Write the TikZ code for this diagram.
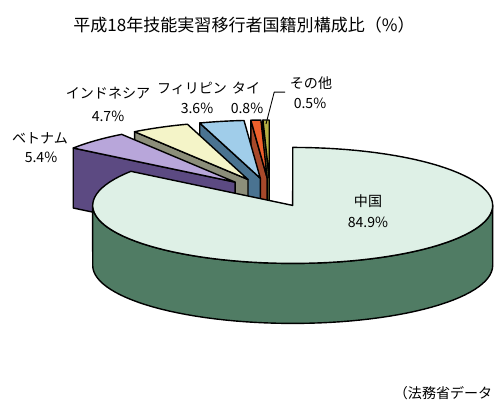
\documentclass[tikz,border=0pt]{standalone}
\usepackage{fontspec}
\setmainfont{Noto Sans CJK JP}
\usetikzlibrary{calc}
\definecolor{cntop}{RGB}{222,240,230}
\definecolor{cnside}{RGB}{80,124,100}
\definecolor{vntop}{RGB}{184,166,218}
\definecolor{vnside}{RGB}{92,74,130}
\definecolor{idtop}{RGB}{244,244,200}
\definecolor{idside}{RGB}{140,142,122}
\definecolor{phtop}{RGB}{160,205,234}
\definecolor{phside}{RGB}{74,115,145}
\definecolor{thtop}{RGB}{238,96,44}
\definecolor{thside}{RGB}{168,73,42}
\definecolor{ottop}{RGB}{181,176,68}
\definecolor{otside}{RGB}{110,106,44}
\def\pieslice[#1][#2](#3)(#4:#5){%
	\begin{scope}[shift={(#3)}]
	\draw[fill=#2] (0,0) -- ({200*cos(#5)},{58*sin(#5)}) -- ++(0,-60) -- (0,-60) -- cycle;
	\draw[fill=#1] (0,0) -- plot[domain=#4:#5, samples=20] ({200*cos(\x)},{58*sin(\x)}) -- cycle;
	\end{scope}}

\begin{document}
\begin{tikzpicture}[x=0.02cm, y=0.02cm, line width=0.8pt, line join=round,
	lbl/.style={font=\fontsize{8}{9.6}\selectfont, inner sep=0pt}]
			%%%%% START %%%%%
			\useasboundingbox (0,0) rectangle (494,406);
			
			\node[font=\fontsize{9.7}{11}\selectfont] (title) at (244,381) {平成18年技能実習移行者国籍別構成比（\%）};
			
			\coordinate (P) at (270,213.5);
			\coordinate (ot) at ($(P)+({50*cos(90.9)},{14.5*sin(90.9)})$);
			\coordinate (th) at ($(P)+({50*cos(93.24)},{14.5*sin(93.24)})$);
			\coordinate (ph) at ($(P)+({50*cos(101.16)},{14.5*sin(101.16)})$);
			\coordinate (id) at ($(P)+({50*cos(116.1)},{14.5*sin(116.1)})$);
			\coordinate (vn) at ($(P)+({50*cos(134.28)},{14.5*sin(134.28)})$);
			\coordinate (cn) at ($(P)+({50*cos(297)},{14.5*sin(297)})$);
			
			\pieslice[ottop][otside](ot)(90:91.8)
			\pieslice[thtop][thside](th)(91.8:94.68)
			\pieslice[phtop][phside](ph)(94.68:107.64)
			\pieslice[idtop][idside](id)(107.64:124.56)
			\pieslice[vntop][vnside](vn)(124.56:144)
			
			\begin{scope}[shift={(cn)}]
			\draw[fill=cnside] plot[domain=180:360, samples=60] ({200*cos(\x)},{58*sin(\x)})
				-- plot[domain=360:180, samples=60] ({200*cos(\x)},{58*sin(\x)-60}) -- cycle;
			\draw[fill=cntop] (0,0) -- plot[domain=144:450, samples=100] ({200*cos(\x)},{58*sin(\x)}) -- cycle;
			\end{scope}
			
			\node[lbl] (cnname) at (368,205) {中国};
			\node[lbl] (cnval) at (368,184) {84.9\%};
			\node[lbl] (vnname) at (40,268) {ベトナム};
			\node[lbl] (vnval) at (41,249) {5.4\%};
			\node[lbl] (idname) at (108,313) {インドネシア};
			\node[lbl] (idval) at (108,290) {4.7\%};
			\node[lbl] (phname) at (192,318) {フィリピン};
			\node[lbl] (phval) at (197,298) {3.6\%};
			\node[lbl] (thname) at (246,318) {タイ};
			\node[lbl] (thval) at (247,298) {0.8\%};
			\node[lbl] (otname) at (311,323) {その他};
			\node[lbl] (otval) at (310,303) {0.5\%};
			
			\coordinate (otend) at (266,282);
			\draw[line width=0.5pt] ($(otname.south west)+(-4,-2)$) -- ++(-11,0) -- (otend);
			
			\node[lbl, anchor=east] (src) at (493,13) {（法務省データ};
			%%%%% END %%%%%
\end{tikzpicture}
\end{document}
